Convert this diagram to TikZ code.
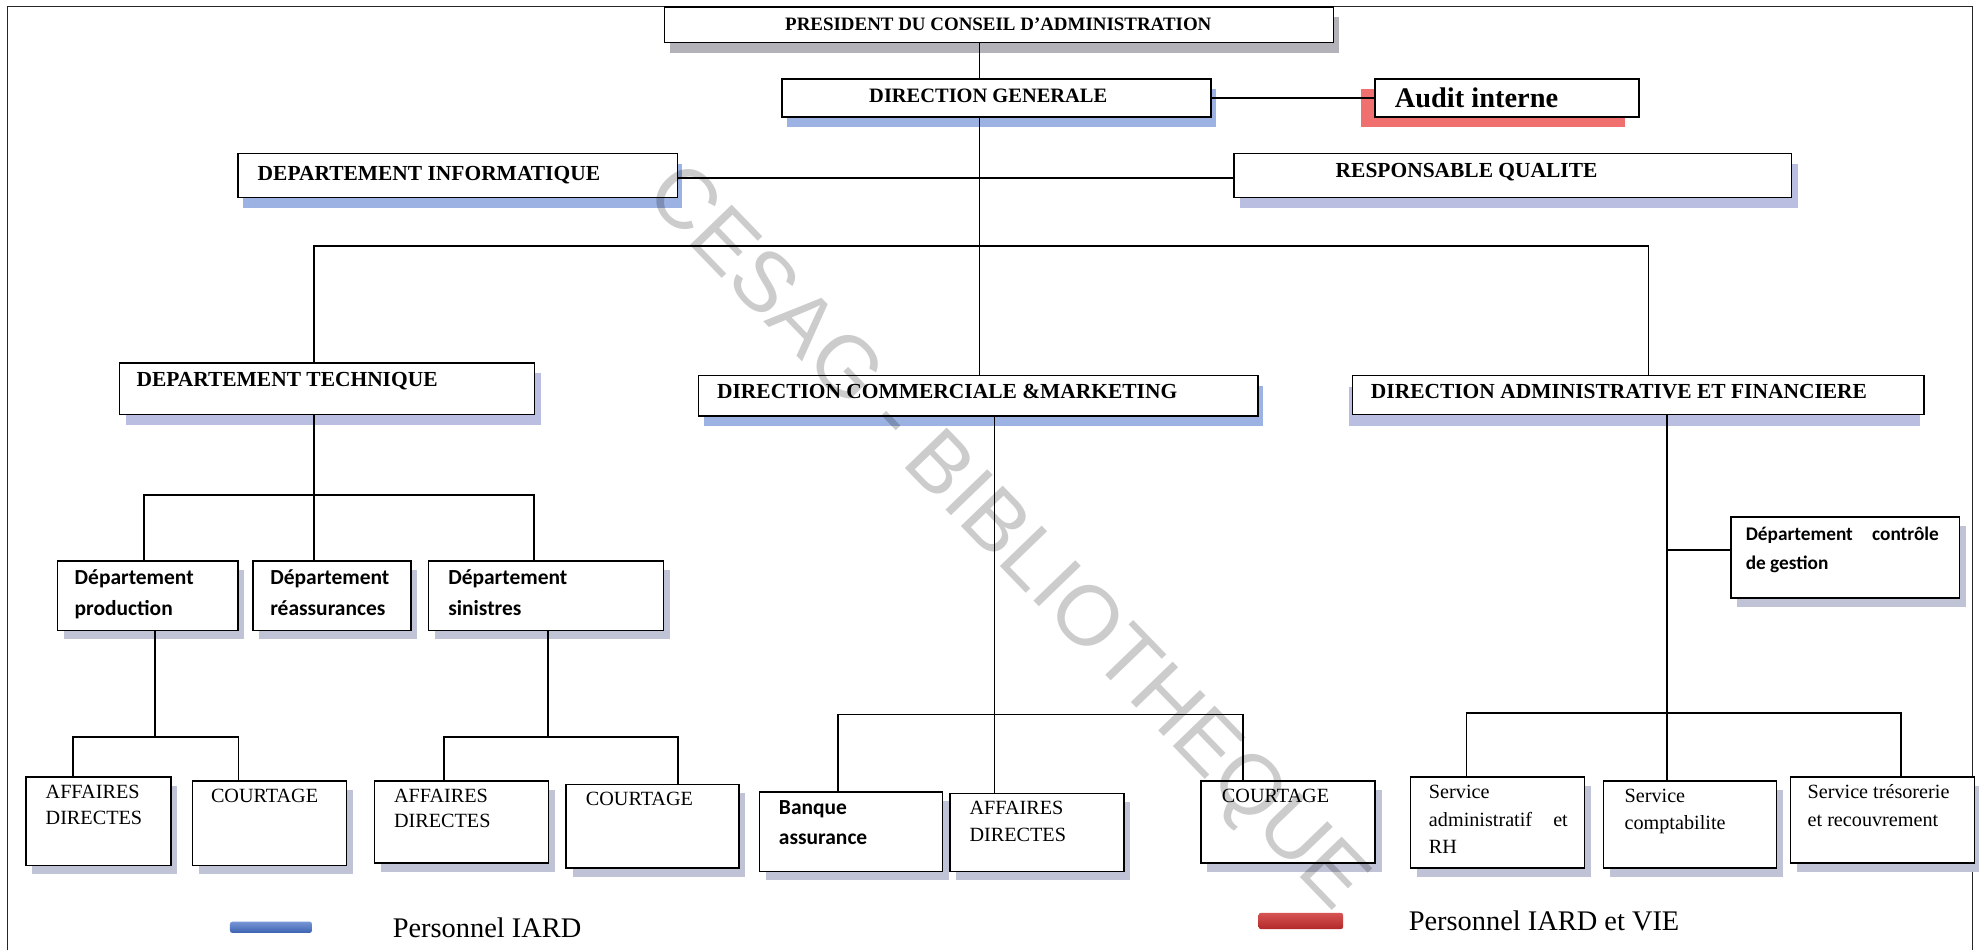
\documentclass[tikz,border=0pt]{standalone}
\usepackage{fontspec}
\setmainfont{Liberation Serif}
\newfontfamily\calib{Carlito}
\newfontfamily\wmfont{Liberation Sans}
\usetikzlibrary{shadows}
\definecolor{cGray}{RGB}{178,178,184}
\definecolor{cBlue}{RGB}{155,178,226}
\definecolor{cLav}{RGB}{186,190,224}
\definecolor{cLow}{RGB}{192,194,214}
\definecolor{cRed}{RGB}{240,112,112}
\definecolor{cBarBlue}{RGB}{62,98,176}
\definecolor{cBarBlueL}{RGB}{120,150,215}
\definecolor{cBarRed}{RGB}{178,40,40}
\definecolor{cBarRedL}{RGB}{215,85,85}
\begin{document}
\begin{tikzpicture}[x=1pt,y=-1pt,
  box/.style={draw=black, line width=1.2pt, fill=white, inner sep=0pt, anchor=north west},
  sGray/.style={drop shadow={shadow xshift=4pt, shadow yshift=-8pt, fill=cGray, opacity=1}},
  sBlue/.style={drop shadow={shadow xshift=4pt, shadow yshift=-8pt, fill=cBlue, opacity=1}},
  sLav/.style={drop shadow={shadow xshift=5pt, shadow yshift=-8pt, fill=cLav, opacity=1}},
  sLow/.style={drop shadow={shadow xshift=5pt, shadow yshift=-7pt, fill=cLow, opacity=1}},
  sRed/.style={drop shadow={shadow xshift=-11pt, shadow yshift=-8pt, fill=cRed, opacity=1}},
  sDaf/.style={drop shadow={shadow xshift=-3pt, shadow yshift=-9pt, fill=cLav, opacity=1}},
  link/.style={draw=black, line width=1.3pt},
  lab/.style={anchor=base west, inner sep=0pt},
  hd/.style={lab, font=\bfseries\fontsize{17}{20}\selectfont},
  dep/.style={lab, font=\calib\bfseries\fontsize{17}{20}\selectfont},
  depsm/.style={lab, font=\calib\bfseries\fontsize{15.3}{18}\selectfont},
  low/.style={lab, font=\fontsize{16}{19}\selectfont},
  leg/.style={lab, font=\fontsize{22.5}{26}\selectfont},
]
\useasboundingbox (0,0) rectangle (1568,753);
\fill[white] (0,0) rectangle (1568,753);
\draw[line width=1pt, black!85] (6,753) -- (6,5) -- (1563,5) -- (1563,753);

% top level boxes
\node[box, sGray, minimum width=530pt, minimum height=28pt] (pres) at (526,5) {};
\node[box, sBlue, minimum width=340pt, minimum height=30pt] (dg) at (619,62) {};
\node[box, sRed, minimum width=209pt, minimum height=30pt] (audit) at (1089,62) {};
\node[box, sBlue, minimum width=348pt, minimum height=35pt] (di) at (188,121) {};
\node[box, sLav, minimum width=442pt, minimum height=35pt] (rq) at (977,121) {};
\node[box, sLav, minimum width=329pt, minimum height=41pt] (dt) at (94,287) {};
\node[box, sBlue, minimum width=443pt, minimum height=32pt] (dcm) at (553,297) {};
\node[box, sDaf, minimum width=453pt, minimum height=31pt] (daf) at (1071,297) {};
% departments
\node[box, sLow, minimum width=143pt, minimum height=55pt] (dprod) at (45,444) {};
\node[box, sLow, minimum width=125pt, minimum height=55pt] (dreas) at (200,444) {};
\node[box, sLow, minimum width=186pt, minimum height=55pt] (dsin) at (339,444) {};
\node[box, sLow, minimum width=181pt, minimum height=64pt] (dcg) at (1371,409) {};
% bottom boxes
\node[box, sLow, minimum width=115pt, minimum height=70pt] (ad1) at (20,615) {};
\node[box, sLow, minimum width=122pt, minimum height=67pt] (c1) at (152,618) {};
\node[box, sLow, minimum width=138pt, minimum height=65pt] (ad2) at (296,618) {};
\node[box, sLow, minimum width=137pt, minimum height=66pt] (c2) at (448,621) {};
\node[box, sLow, minimum width=145pt, minimum height=63pt] (ba) at (601,627) {};
\node[box, sLow, minimum width=138pt, minimum height=62pt] (ad3) at (752,628) {};
\node[box, sLow, minimum width=138pt, minimum height=65pt] (c3) at (951,618) {};
\node[box, sLow, minimum width=138pt, minimum height=72pt] (sarh) at (1117,615) {};
\node[box, sLow, minimum width=137pt, minimum height=69pt] (compta) at (1270,618) {};
\node[box, sLow, minimum width=146pt, minimum height=68pt] (treso) at (1418,615) {};

% connectors
\coordinate (vx) at (776,0);
\draw[link] (pres.south -| vx) -- (dg.north -| vx);
\draw[link] (dg.south -| vx) -- (dcm.north -| vx);
\draw[link] (dg.east) -- (audit.west);
\coordinate (hq) at (0,141);
\draw[link] (di.east |- hq) -- (rq.west |- hq);
\coordinate (bl) at (249,195);
\coordinate (br) at (1306,195);
\draw[link] (dt.north -| bl) -- (bl) -- (br) -- (daf.north -| br);
% technique
\coordinate (t1) at (249,392);
\coordinate (t1l) at (114,392);
\coordinate (t1r) at (423,392);
\draw[link] (dt.south -| t1) -- (t1);
\draw[link] (dprod.north -| t1l) -- (t1l) -- (t1r) -- (dsin.north -| t1r);
\draw[link] (t1) -- (dreas.north -| t1);
\coordinate (p1) at (123,584);
\coordinate (p1l) at (58,584);
\coordinate (p1r) at (189,584);
\draw[link] (dprod.south -| p1) -- (p1);
\draw[link] (ad1.north -| p1l) -- (p1l) -- (p1r) -- (c1.north -| p1r);
\coordinate (s1) at (434,584);
\coordinate (s1l) at (352,584);
\coordinate (s1r) at (537,584);
\draw[link] (dsin.south -| s1) -- (s1);
\draw[link] (ad2.north -| s1l) -- (s1l) -- (s1r) -- (c2.north -| s1r);
% commerciale
\coordinate (m1) at (788,566);
\coordinate (m1l) at (664,566);
\coordinate (m1r) at (985,566);
\draw[link] (dcm.south -| m1) -- (ad3.north -| m1);
\draw[link] (ba.north -| m1l) -- (m1l) -- (m1r) -- (c3.north -| m1r);
% administrative
\coordinate (f1) at (1321,565);
\coordinate (f2) at (1321,436);
\coordinate (f1l) at (1162,565);
\coordinate (f1r) at (1506,565);
\draw[link] (daf.south -| f1) -- (compta.north -| f1);
\draw[link] (f2) -- (dcg.west |- f2);
\draw[link] (sarh.north -| f1l) -- (f1l) -- (f1r) -- (treso.north -| f1r);

% labels
\node[inner sep=0pt, font=\bfseries\fontsize{15}{18}\selectfont] (pres-t) at (791,19) {PRESIDENT DU CONSEIL D’ADMINISTRATION};
\node[inner sep=0pt, font=\bfseries\fontsize{16.2}{19}\selectfont] (dg-t) at (783,76) {DIRECTION GENERALE};
\node[lab, font=\bfseries\fontsize{22.5}{26}\selectfont] (au-t) at (1105,85) {Audit interne};
\node[hd] (di-t) at (204,143) {DEPARTEMENT INFORMATIQUE};
\node[inner sep=0pt, font=\bfseries\fontsize{17}{20}\selectfont] (rq-t) at (1162,136) {RESPONSABLE QUALITE};
\node[hd] (dt-t) at (108,306) {DEPARTEMENT TECHNIQUE};
\node[hd] (dcm-t) at (568,316) {DIRECTION COMMERCIALE \&MARKETING};
\node[hd] (daf-t) at (1086,316) {DIRECTION ADMINISTRATIVE ET FINANCIERE};

\node[dep] (dprod-a) at (59,463) {Département};
\node[dep] (dprod-b) at (59,488) {production};
\node[dep] (dreas-a) at (214,463) {Département};
\node[dep] (dreas-b) at (214,488) {réassurances};
\node[dep] (dsin-a) at (355,463) {Département};
\node[dep] (dsin-b) at (355,488) {sinistres};
\node[depsm] (dcg-a) at (1383,428) {\makebox[153pt][s]{Département contrôle}};
\node[depsm] (dcg-b) at (1383,451) {de gestion};
\node[dep] (ba-a) at (617,645) {Banque};
\node[dep] (ba-b) at (617,669) {assurance};

\node[low] (ad1-a) at (36,633) {AFFAIRES};
\node[low] (ad1-b) at (36,653) {DIRECTES};
\node[low] (c1-t) at (167,636) {COURTAGE};
\node[low] (ad2-a) at (312,636) {AFFAIRES};
\node[low] (ad2-b) at (312,656) {DIRECTES};
\node[low] (c2-t) at (464,638) {COURTAGE};
\node[low] (ad3-a) at (768,645) {AFFAIRES};
\node[low] (ad3-b) at (768,667) {DIRECTES};
\node[low] (c3-t) at (968,636) {COURTAGE};
\node[low] (sarh-a) at (1132,633) {Service};
\node[low] (sarh-b) at (1132,655) {\makebox[110pt][s]{administratif et}};
\node[low] (sarh-c) at (1132,676) {RH};
\node[low] (compta-a) at (1287,636) {Service};
\node[low] (compta-b) at (1287,657) {comptabilite};
\node[low] (treso-a) at (1432,633) {Service trésorerie};
\node[low] (treso-b) at (1432,655) {et recouvrement};

% legend
\node[anchor=north west, inner sep=0pt, minimum width=65pt, minimum height=9pt, rounded corners=2pt, top color=cBarBlueL, bottom color=cBarBlue] (legb) at (182,730) {};
\node[leg] (legb-t) at (311,743) {Personnel IARD};
\node[anchor=north west, inner sep=0pt, minimum width=67pt, minimum height=13pt, rounded corners=2pt, top color=cBarRedL, bottom color=cBarRed] (legr) at (997,723) {};
\node[leg] (legr-t) at (1116,737) {Personnel IARD et VIE};

% watermark
\node[inner sep=0pt, rotate=-46, text=black, text opacity=0.2, font=\wmfont\fontsize{67}{67}\selectfont] (wm) at (796,428) {CESAG - BIBLIOTHEQUE};
\end{tikzpicture}
\end{document}
